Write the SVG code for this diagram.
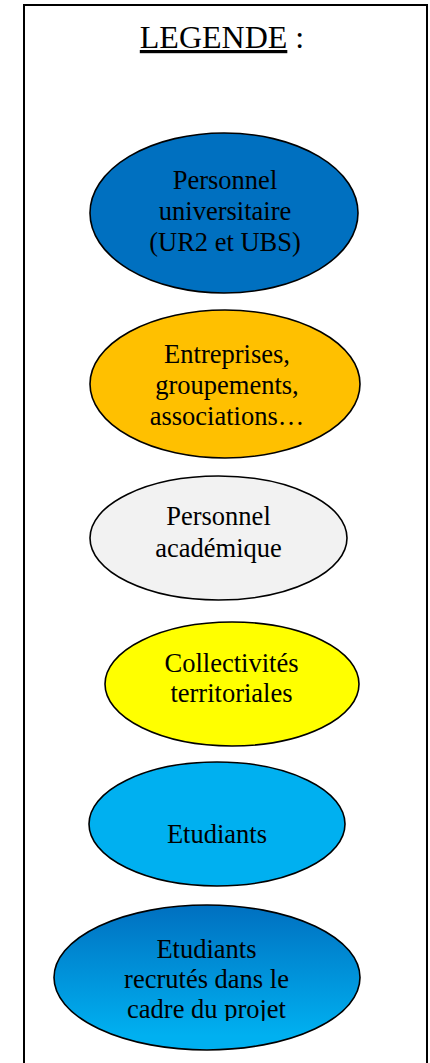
<svg xmlns="http://www.w3.org/2000/svg" width="430" height="1063" viewBox="0 0 430 1063">
<style>
.e{stroke:#000;stroke-width:1.6}
.t{font-family:"Liberation Serif","Times New Roman",serif;font-size:26.5px;fill:#000;text-anchor:middle}
</style>
<defs>
<linearGradient id="g" x1="0" y1="0" x2="0" y2="1">
<stop offset="0" stop-color="#0070C0"/>
<stop offset="0.9" stop-color="#00B0F0"/>
</linearGradient>
<clipPath id="c"><rect x="0" y="0" width="430" height="1021"/></clipPath>
</defs>
<rect width="430" height="1063" fill="#fff"/>
<rect x="24" y="5" width="403" height="1080" fill="none" stroke="#000" stroke-width="2"/>
<g id="title">
<text x="222" y="48" style="font-family:'Liberation Serif','Times New Roman',serif;font-size:32px;text-anchor:middle"><tspan text-decoration="underline">LEGENDE</tspan> :</text>
</g>
<g id="connectors"></g>
<g id="n1">
<ellipse class="e" cx="224" cy="213" rx="134" ry="80" fill="#0070C0"/>
<text class="t" x="225" y="189">Personnel</text>
<text class="t" x="225" y="220">universitaire</text>
<text class="t" x="225" y="251">(UR2 et UBS)</text>
</g>
<g id="n2">
<ellipse class="e" cx="225" cy="384" rx="135" ry="74" fill="#FFC000"/>
<text class="t" x="227" y="363">Entreprises,</text>
<text class="t" x="227" y="394">groupements,</text>
<text class="t" x="227" y="425">associations…</text>
</g>
<g id="n3">
<ellipse class="e" cx="218.5" cy="538" rx="128.5" ry="62" fill="#F2F2F2"/>
<text class="t" x="218.5" y="525">Personnel</text>
<text class="t" x="218.5" y="556.5">académique</text>
</g>
<g id="n4">
<ellipse class="e" cx="232" cy="684" rx="127" ry="62" fill="#FFFF00"/>
<text class="t" x="231.5" y="671.5">Collectivités</text>
<text class="t" x="231.5" y="701.5">territoriales</text>
</g>
<g id="n5">
<ellipse class="e" cx="217" cy="824" rx="128" ry="62" fill="#00B0F0"/>
<text class="t" x="217" y="842.5">Etudiants</text>
</g>
<g id="n6">
<ellipse class="e" cx="207" cy="977.5" rx="153" ry="72.5" fill="url(#g)"/>
<g clip-path="url(#c)">
<text class="t" x="206.5" y="958">Etudiants</text>
<text class="t" x="206.5" y="988">recrutés dans le</text>
<text class="t" x="206.5" y="1018">cadre du projet</text>
</g>
</g>
</svg>
